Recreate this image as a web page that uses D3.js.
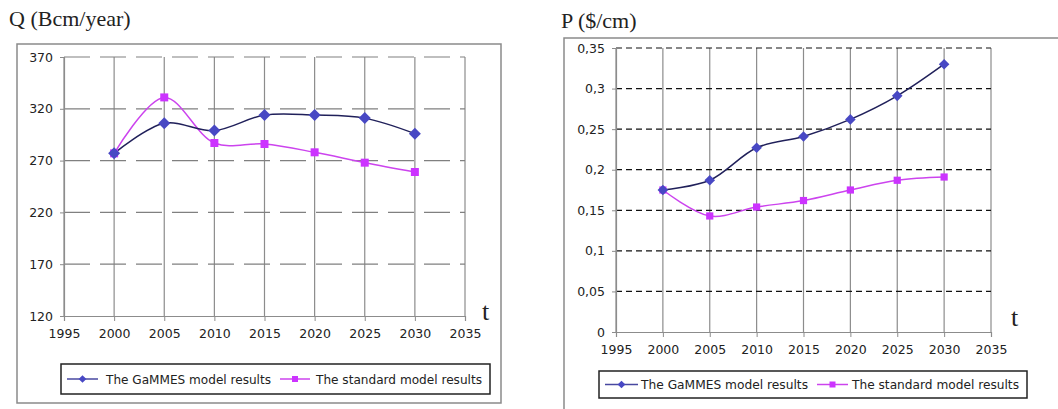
<!DOCTYPE html>
<html><head><meta charset="utf-8">
<script src="https://cdn.jsdelivr.net/npm/d3@7"></script>
<style>body{margin:0;background:#fff}svg{display:block}</style>
</head><body>
<svg id="c" width="1058" height="409"></svg>
<script>
const years = [2000, 2005, 2010, 2015, 2020, 2025, 2030];
const xTicks = [1995, 2000, 2005, 2010, 2015, 2020, 2025, 2030, 2035];
const qGammes = [277, 306, 299, 314, 314, 311, 296];
const qStandard = [277, 331, 287, 286, 278, 268, 259];
const qTicks = [120, 170, 220, 270, 320, 370];
const pGammes = [0.175, 0.187, 0.227, 0.241, 0.262, 0.291, 0.330];
const pStandard = [0.175, 0.143, 0.154, 0.162, 0.175, 0.187, 0.191];
const pTicks = [0, 0.05, 0.1, 0.15, 0.2, 0.25, 0.3, 0.35];
const seriesNames = ["The GaMMES model results", "The standard model results"];

const svg = d3.select("#c");
const sans = "DejaVu Sans, Verdana, sans-serif";
const serif = "Liberation Serif, Times New Roman, serif";
const lineCol = ["#20205a", "#cc44ee"];
const markCol = ["#4848c4", "#cc33ff"];

function panel(o) {
  const g = svg.append("g");
  g.append("rect").attr("x", o.frame[0]).attr("y", o.frame[1]).attr("width", o.frame[2]).attr("height", o.frame[3])
    .attr("fill", "none").attr("stroke", "#8a8a8a").attr("stroke-width", 1.5);
  g.append("text").attr("x", o.title[0]).attr("y", o.title[1]).text(o.titleText)
    .attr("font-family", serif).attr("font-size", 22).attr("fill", "#222");
  const x = d3.scaleLinear().domain([1995, 2035]).range([o.px0, o.px1]);
  const y = d3.scaleLinear().domain(o.ydom).range([o.py1, o.py0]);
  g.append("g").selectAll("line").data(xTicks).join("line")
    .attr("x1", d => x(d)).attr("x2", d => x(d)).attr("y1", o.py0).attr("y2", o.py1)
    .attr("stroke", "#8c8c8c").attr("stroke-width", 1.2);
  g.append("g").selectAll("line").data(o.yticks.slice(1)).join("line")
    .attr("x1", o.px0).attr("x2", o.px1).attr("y1", d => y(d)).attr("y2", d => y(d))
    .attr("stroke", o.hgColor).attr("stroke-width", o.hgWidth).attr("stroke-dasharray", o.dash);
  const xa = g.append("g").attr("transform", `translate(0,${o.py1})`)
    .call(d3.axisBottom(x).tickValues(xTicks).tickFormat(d3.format("d")).tickSize(5).tickPadding(8));
  xa.select(".domain").attr("stroke", "#8c8c8c").attr("stroke-width", 1.2);
  xa.selectAll(".tick line").attr("stroke", "#8c8c8c");
  xa.selectAll("text").attr("font-family", sans).attr("font-size", 12.5).attr("fill", "#222");
  const ya = g.append("g").attr("transform", `translate(${o.px0},0)`)
    .call(d3.axisLeft(y).tickValues(o.yticks).tickFormat(o.yfmt).tickSize(4).tickPadding(o.ypad));
  ya.select(".domain").attr("stroke", "#8c8c8c").attr("stroke-width", 1.2);
  ya.selectAll(".tick line").attr("stroke", "#8c8c8c");
  ya.selectAll("text").attr("font-family", sans).attr("font-size", 12.5).attr("fill", "#222");
  g.append("text").attr("x", o.t[0]).attr("y", o.t[1]).text("t")
    .attr("font-family", serif).attr("font-size", 26).attr("fill", "#222");

  const line = d3.line().x((d, i) => x(years[i])).y(d => y(d)).curve(d3.curveCatmullRom.alpha(0.5));
  const sets = [o.s1, o.s2];
  [1, 0].forEach(k => {
    g.append("path").attr("d", line(sets[k])).attr("fill", "none")
      .attr("stroke", lineCol[k]).attr("stroke-width", 1.5);
  });
  [1, 0].forEach(k => {
    g.append("g").selectAll("path").data(sets[k]).join("path")
      .attr("d", d3.symbol().type(d3.symbolSquare).size(k === 0 ? o.dSize : o.sSize)())
      .attr("transform", (d, i) => `translate(${x(years[i])},${y(d)}) rotate(${k === 0 ? 45 : 0})`)
      .attr("fill", markCol[k]);
  });
  const L = o.legend;
  g.append("rect").attr("x", L.box[0]).attr("y", L.box[1]).attr("width", L.box[2]).attr("height", L.box[3])
    .attr("fill", "#fff").attr("stroke", "#222").attr("stroke-width", 1.5);
  seriesNames.forEach((n, k) => {
    const lx = L.items[k];
    const cy = L.box[1] + L.box[3] / 2;
    g.append("line").attr("x1", lx[0]).attr("x2", lx[1]).attr("y1", cy).attr("y2", cy)
      .attr("stroke", k === 0 ? "#4848a0" : lineCol[1]).attr("stroke-width", 1.5);
    g.append("path").attr("d", d3.symbol().type(d3.symbolSquare).size(k === 0 ? 30 : 36)())
      .attr("transform", `translate(${(lx[0] + lx[1]) / 2},${cy}) rotate(${k === 0 ? 45 : 0})`)
      .attr("fill", markCol[k]);
    g.append("text").attr("x", lx[2]).attr("y", cy).attr("dy", "0.36em").text(n)
      .attr("font-family", sans).attr("font-size", 12.5).attr("fill", "#222")
      .attr("textLength", lx[3]).attr("lengthAdjust", "spacingAndGlyphs");
  });
}

panel({
  frame: [17, 44, 484, 359], title: [9, 26], titleText: "Q (Bcm/year)",
  px0: 64, px1: 465, py0: 57, py1: 316, ydom: [120, 370], yticks: qTicks,
  yfmt: d3.format("d"), ypad: 7, hgColor: "#808080", hgWidth: 1.2, dash: "26,10",
  t: [482, 320], s1: qGammes, s2: qStandard, dSize: 72, sSize: 64,
  legend: { box: [61, 364, 429, 30], items: [[67, 98, 106, 165], [280, 310, 316, 166]] }
});
panel({
  frame: [564, 38, 520, 400], title: [561, 28], titleText: "P ($/cm)",
  px0: 616, px1: 991, py0: 48, py1: 332, ydom: [0, 0.35], yticks: pTicks,
  yfmt: d => d3.format(".2~f")(d).replace(".", ","), ypad: 7, hgColor: "#111", hgWidth: 1.2, dash: "6,4",
  t: [1011, 326], s1: pGammes, s2: pStandard, dSize: 56, sSize: 52,
  legend: { box: [599, 371, 428, 27], items: [[605, 638, 641, 167], [817, 848, 852, 167]] }
});
</script>
</body></html>
